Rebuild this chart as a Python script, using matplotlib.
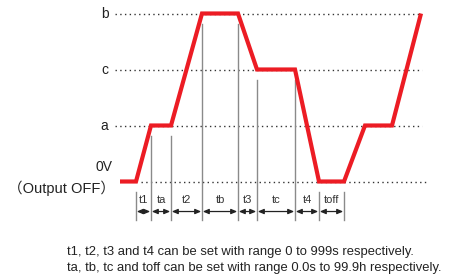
import matplotlib
matplotlib.use("Agg")
import matplotlib.pyplot as plt
import numpy as np

# ---- data ----
level_names = ["0V", "a", "c", "b"]
level_values = [0, 1, 2, 3]
segment_labels = ["t1", "ta", "t2", "tb", "t3", "tc", "t4", "toff"]
segment_durations = [15, 20, 31, 36, 19, 38, 24, 25]
segment_end_levels = [1, 1, 3, 3, 2, 2, 0, 0]
lead_in = 16
tail_durations = [21, 27, 29]
tail_levels = [1, 1, 3]
note_lines = [
    "t1, t2, t3 and t4 can be set with range 0 to 999s respectively.",
    "ta, tb, tc and toff can be set with range 0.0s to 99.9h respectively.",
]

W, H = 458, 280
fig = plt.figure(figsize=(W / 100, H / 100), dpi=100)
ax = fig.add_axes([0, 0, 1, 1])
ax.axis("off")
x0_px, y0_px, unit_px = 136, 181.5, 56.0
ax.set_xlim(-x0_px, W - x0_px)
ax.set_ylim(-(H - y0_px) / unit_px, y0_px / unit_px)

def fx(px):
    return px / W

def fy(py):
    return 1 - py / H

red = "#ec1c24"

# profile
xs = [-lead_in, 0]
ys = [0, 0]
t = 0
boundaries = [0]
boundary_levels = [0]
for d, lv in zip(segment_durations, segment_end_levels):
    t += d
    xs.append(t)
    ys.append(lv)
    boundaries.append(t)
    boundary_levels.append(lv)
for d, lv in zip(tail_durations, tail_levels):
    t += d
    xs.append(t)
    ys.append(lv)

# dotted level lines
dot_style = dict(color="#333333", lw=1.0, linestyle=(0, (1, 2.4)), zorder=1)
for name, lv in zip(level_names, level_values):
    if lv == 0:
        ax.plot([5, 291], [lv, lv], **dot_style)
    else:
        ax.plot([-21, 286], [lv, lv], **dot_style)

# vertical gray lines
bottom = -0.6875
for b, lv in zip(boundaries, boundary_levels):
    ax.plot([b, b], [lv - 0.19, bottom], color="#8a8a8a", lw=1.0, zorder=2)

# red profile
ax.plot(xs, ys, color=red, lw=3.0, solid_joinstyle="miter", solid_capstyle="butt", zorder=3)

# arrows and labels
arrow_y = -0.536
for i, lab in enumerate(segment_labels):
    a, b = boundaries[i], boundaries[i + 1]
    ax.annotate("", xy=(b - 0.8, arrow_y), xytext=(a + 0.8, arrow_y),
                arrowprops=dict(arrowstyle="<|-|>,head_length=0.35,head_width=0.15",
                                color="#222222", lw=0.9, shrinkA=0, shrinkB=0))
    ax.text((a + b) / 2, -0.33, lab, ha="center", va="center", fontsize=8,
            family="Liberation Sans", color="#333333")

# level letters
for name, lv in zip(level_names, level_values):
    if lv == 0:
        continue
    ax.text(-27.5, lv - 4.5 / unit_px, name, ha="right", va="baseline", fontsize=10,
            family="Liberation Sans", color="#222222")

fig.text(fx(113), fy(171), "0V", ha="right", va="baseline", fontsize=10,
         family="Liberation Sans", color="#222222")
fig.text(fx(115), fy(193), "（Output OFF）", ha="right", va="baseline", fontsize=10.5,
         family=["Liberation Sans", "Noto Sans CJK JP"], color="#222222")

for i, line in enumerate(note_lines):
    fig.text(fx(67), fy(252.5 + 15.5 * i), line, ha="left", va="center", fontsize=9.4,
             family="Liberation Sans", color="#222222")

fig.savefig("out.png", dpi=100)
